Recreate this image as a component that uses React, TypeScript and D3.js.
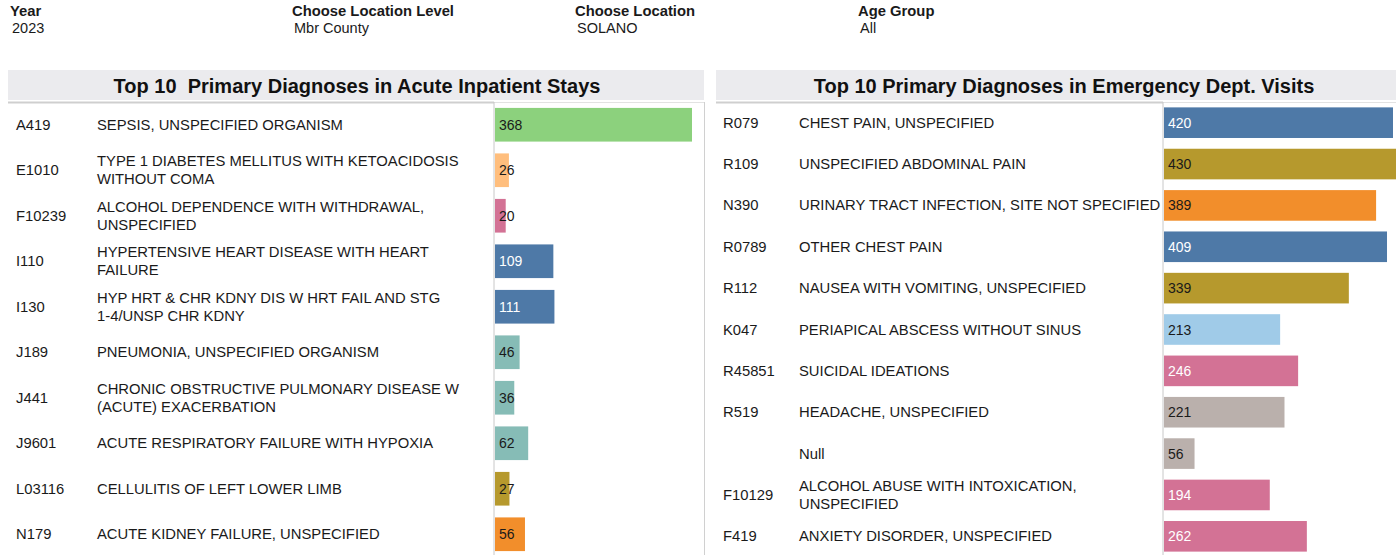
import * as d3 from "d3";

// filter header
const filterLabels = ["Year", "Choose Location Level", "Choose Location", "Age Group"];
const filterValues = ["2023", "Mbr County", "SOLANO", "All"];

// acute inpatient stays
const ipCodes = ["A419", "E1010", "F10239", "I110", "I130", "J189", "J441", "J9601", "L03116", "N179"];
const ipNames = [
  "SEPSIS, UNSPECIFIED ORGANISM",
  "TYPE 1 DIABETES MELLITUS WITH KETOACIDOSIS\nWITHOUT COMA",
  "ALCOHOL DEPENDENCE WITH WITHDRAWAL,\nUNSPECIFIED",
  "HYPERTENSIVE HEART DISEASE WITH HEART\nFAILURE",
  "HYP HRT & CHR KDNY DIS W HRT FAIL AND STG\n1-4/UNSP CHR KDNY",
  "PNEUMONIA, UNSPECIFIED ORGANISM",
  "CHRONIC OBSTRUCTIVE PULMONARY DISEASE W\n(ACUTE) EXACERBATION",
  "ACUTE RESPIRATORY FAILURE WITH HYPOXIA",
  "CELLULITIS OF LEFT LOWER LIMB",
  "ACUTE KIDNEY FAILURE, UNSPECIFIED",
];
const ipValues = [368, 26, 20, 109, 111, 46, 36, 62, 27, 56];
const ipColors = ["#8cd17d", "#ffbe7d", "#d37295", "#4e79a7", "#4e79a7", "#86bcb6", "#86bcb6", "#86bcb6", "#b6992d", "#f28e2b"];

// emergency dept visits
const edCodes = ["R079", "R109", "N390", "R0789", "R112", "K047", "R45851", "R519", "", "F10129", "F419"];
const edNames = [
  "CHEST PAIN, UNSPECIFIED",
  "UNSPECIFIED ABDOMINAL PAIN",
  "URINARY TRACT INFECTION, SITE NOT SPECIFIED",
  "OTHER CHEST PAIN",
  "NAUSEA WITH VOMITING, UNSPECIFIED",
  "PERIAPICAL ABSCESS WITHOUT SINUS",
  "SUICIDAL IDEATIONS",
  "HEADACHE, UNSPECIFIED",
  "Null",
  "ALCOHOL ABUSE WITH INTOXICATION,\nUNSPECIFIED",
  "ANXIETY DISORDER, UNSPECIFIED",
];
const edValues = [420, 430, 389, 409, 339, 213, 246, 221, 56, 194, 262];
const edColors = ["#4e79a7", "#b6992d", "#f28e2b", "#4e79a7", "#b6992d", "#a0cbe8", "#d37295", "#bab0ac", "#bab0ac", "#d37295", "#d37295"];

const darkColors = ["#4e79a7", "#d37295"];
const font = "'Liberation Sans', Arial, sans-serif";

interface PanelProps {
  title: string;
  titleX: number;
  codes: string[];
  names: string[];
  values: number[];
  colors: string[];
  left: number;
  right: number;
  axisX: number;
  refValue: number;
  refX: number;
  codeX: number;
  nameX: number;
}

const Panel = (p: PanelProps) => {
  const top = 102;
  const bottom = 557;
  const y = d3
    .scaleBand<number>()
    .domain(d3.range(p.values.length))
    .range([top, bottom])
    .paddingInner(0.26)
    .paddingOuter(0.13);
  const x = d3.scaleLinear().domain([0, p.refValue]).range([p.axisX + 1, p.refX]);

  return (
    <g>
      <rect x={p.left} y={70} width={p.right - p.left} height={30} fill="#ebebee" />
      <text
        x={p.titleX}
        y={86}
        textAnchor="middle"
        dominantBaseline="central"
        fontFamily={font}
        fontWeight="bold"
        fontSize={20}
        fill="#111"
        style={{ whiteSpace: "pre" }}
      >
        {p.title}
      </text>
      <line x1={p.left} x2={p.axisX} y1={102.5} y2={102.5} stroke="#cfcfcf" strokeWidth={2} />
      <line x1={p.axisX} x2={p.right} y1={102.5} y2={102.5} stroke="#e2e2e2" strokeWidth={1} />
      {p.values.map((v, i) => {
        const cy = (y(i) ?? 0) + y.bandwidth() / 2;
        const lines = p.names[i].split("\n");
        const w = x(v) - x(0);
        const inside = w > 28;
        const labelColor = inside && darkColors.includes(p.colors[i]) ? "#ffffff" : "#1a1a1a";
        return (
          <g key={i}>
            <text x={p.codeX} y={cy} dominantBaseline="central" fontFamily={font} fontSize={14.8} fill="#1a1a1a">
              {p.codes[i]}
            </text>
            {lines.map((ln, j) => (
              <text
                key={j}
                x={p.nameX}
                y={cy + (j - (lines.length - 1) / 2) * 18}
                dominantBaseline="central"
                fontFamily={font}
                fontSize={14.8}
                fill="#1a1a1a"
              >
                {ln}
              </text>
            ))}
            <rect x={x(0)} y={y(i)} width={w} height={y.bandwidth()} fill={p.colors[i]} />
            <text x={x(0) + 4} y={cy} dominantBaseline="central" fontFamily={font} fontSize={14} fill={labelColor}>
              {v}
            </text>
          </g>
        );
      })}
      <line x1={p.axisX} x2={p.axisX} y1={102} y2={555} stroke="#c8c8c8" strokeWidth={1} />
    </g>
  );
};

export default function App() {
  const filterX = [10, 292, 575, 858];
  return (
    <svg
      width={1396}
      height={555}
      style={{ position: "absolute", left: 0, top: 0, background: "#fff" }}
    >
      {filterLabels.map((l, i) => (
        <g key={l}>
          <text x={filterX[i]} y={11} dominantBaseline="central" fontFamily={font} fontWeight="bold" fontSize={14.8} fill="#1a1a1a">
            {l}
          </text>
          <text x={filterX[i] + 2} y={28} dominantBaseline="central" fontFamily={font} fontSize={14.5} fill="#1a1a1a">
            {filterValues[i]}
          </text>
        </g>
      ))}
      <Panel
        title={"Top 10  Primary Diagnoses in Acute Inpatient Stays"}
        titleX={357}
        codes={ipCodes}
        names={ipNames}
        values={ipValues}
        colors={ipColors}
        left={8}
        right={704}
        axisX={494}
        refValue={368}
        refX={692}
        codeX={16}
        nameX={97}
      />
      <line x1={704.5} x2={704.5} y1={102} y2={555} stroke="#d0d0d0" />
      <Panel
        title="Top 10 Primary Diagnoses in Emergency Dept. Visits"
        titleX={1064}
        codes={edCodes}
        names={edNames}
        values={edValues}
        colors={edColors}
        left={716}
        right={1396}
        axisX={1163}
        refValue={420}
        refX={1393}
        codeX={723}
        nameX={799}
      />
    </svg>
  );
}
